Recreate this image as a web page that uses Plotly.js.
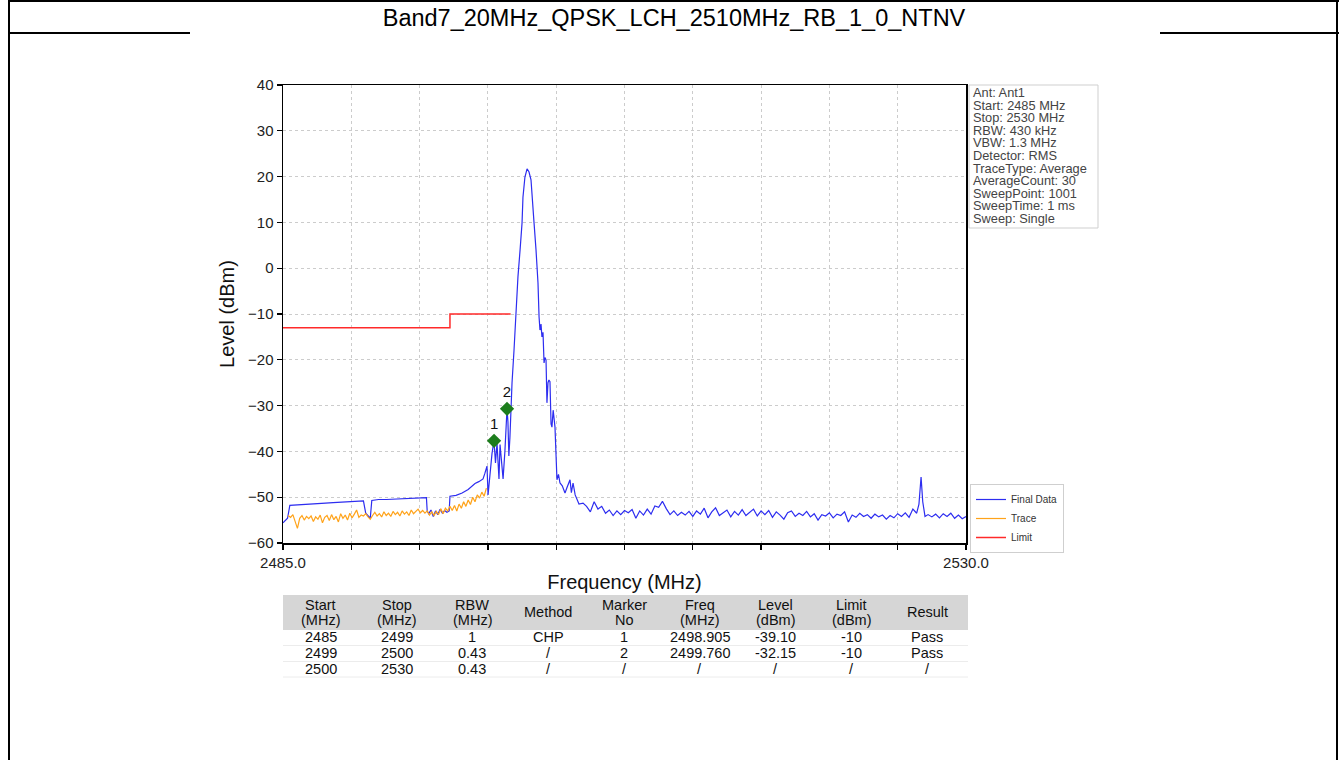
<!DOCTYPE html>
<html>
<head>
<meta charset="utf-8">
<script src="https://cdn.plot.ly/plotly-3.0.1.min.js"></script>
<style>
  html, body { margin: 0; padding: 0; background: #ffffff; }
  #chart { width: 1339px; height: 760px; }
</style>
</head>
<body>
<div id="chart"></div>
<script>
// ---------------- DATA ----------------
const chartTitle = "Band7_20MHz_QPSK_LCH_2510MHz_RB_1_0_NTNV";

// Final Data trace: [frequency MHz, level dBm]
const finalData = [
  [2485.00,-55.6],[2485.15,-55.2],[2485.30,-54.6],[2485.45,-51.8],[2485.80,-51.7],[2486.30,-51.6],
  [2486.80,-51.5],[2487.30,-51.4],[2487.80,-51.3],[2488.30,-51.2],[2488.80,-51.1],[2489.30,-51.0],
  [2489.80,-50.8],[2490.30,-50.8],[2490.45,-53.5],[2490.60,-54.0],[2490.75,-54.6],[2490.85,-50.7],
  [2491.30,-50.5],[2491.80,-50.5],[2492.30,-50.4],[2492.80,-50.4],[2493.30,-50.3],[2493.80,-50.2],
  [2494.30,-50.1],[2494.45,-50.1],[2494.50,-53.0],[2494.60,-53.6],[2494.75,-52.8],[2494.90,-54.2],
  [2495.05,-53.0],[2495.20,-53.8],[2495.35,-52.6],[2495.50,-53.5],[2495.65,-52.9],[2495.80,-53.3],
  [2495.95,-53.0],[2496.00,-49.8],[2496.40,-49.6],[2496.80,-49.1],[2497.20,-48.3],[2497.65,-47.0],
  [2497.90,-46.6],[2498.18,-46.0],[2498.30,-44.8],[2498.44,-43.2],[2498.51,-49.5],[2498.60,-46.0],
  [2498.77,-40.5],[2498.90,-37.7],[2499.00,-42.5],[2499.10,-38.2],[2499.23,-46.0],[2499.30,-38.5],
  [2499.45,-45.5],[2499.50,-46.0],[2499.62,-40.0],[2499.76,-30.7],[2499.82,-33.5],[2499.88,-41.0],
  [2499.95,-37.0],[2500.02,-28.8],[2500.09,-25.0],[2500.22,-17.9],[2500.29,-13.5],[2500.42,-7.6],
  [2500.48,-1.9],[2500.62,4.0],[2500.75,9.9],[2500.81,15.5],[2500.94,19.9],[2501.08,21.7],
  [2501.21,21.0],[2501.34,19.3],[2501.47,14.2],[2501.54,9.9],[2501.67,4.0],[2501.80,-3.2],
  [2501.87,-10.6],[2501.93,-13.5],[2502.00,-12.2],[2502.06,-15.0],[2502.13,-14.0],[2502.20,-20.7],
  [2502.26,-19.5],[2502.33,-20.0],[2502.39,-29.4],[2502.46,-25.0],[2502.52,-24.4],[2502.59,-24.8],
  [2502.66,-34.0],[2502.72,-34.7],[2502.80,-31.0],[2502.92,-34.7],[2502.98,-40.0],[2503.05,-46.2],
  [2503.15,-45.0],[2503.25,-46.9],[2503.40,-47.5],[2503.58,-49.1],[2503.70,-48.0],[2503.80,-47.0],
  [2503.91,-46.2],[2504.00,-49.0],[2504.11,-46.9],[2504.25,-49.5],[2504.37,-50.6],[2504.50,-51.5],
  [2504.77,-51.3],[2505.00,-52.0],[2505.25,-53.2],[2505.50,-51.0],[2505.75,-52.6],[2506.00,-52.0],
  [2506.25,-53.5],[2506.50,-52.8],[2506.75,-54.0],[2507.00,-53.0],[2507.25,-53.8],[2507.50,-52.9],
  [2507.75,-53.4],[2508.00,-52.7],[2508.25,-54.6],[2508.50,-53.0],[2508.75,-53.9],[2509.00,-52.6],
  [2509.25,-53.7],[2509.50,-51.9],[2509.75,-52.2],[2510.00,-50.9],[2510.25,-52.5],[2510.50,-53.8],
  [2510.75,-53.0],[2511.00,-54.0],[2511.25,-53.3],[2511.50,-53.9],[2511.75,-53.1],[2512.00,-54.2],
  [2512.25,-53.0],[2512.50,-53.7],[2512.75,-52.4],[2513.00,-54.5],[2513.25,-53.2],[2513.50,-52.3],
  [2513.75,-54.0],[2514.00,-53.4],[2514.25,-52.8],[2514.50,-54.3],[2514.75,-53.1],[2515.00,-53.9],
  [2515.25,-52.7],[2515.50,-54.0],[2515.75,-53.3],[2516.00,-52.6],[2516.25,-54.1],[2516.50,-53.0],
  [2516.75,-53.8],[2517.00,-52.9],[2517.25,-54.4],[2517.50,-53.2],[2517.75,-53.9],[2518.00,-54.8],
  [2518.25,-53.4],[2518.50,-53.0],[2518.75,-54.2],[2519.00,-53.5],[2519.25,-54.0],[2519.50,-53.1],
  [2519.75,-54.3],[2520.00,-53.6],[2520.25,-55.0],[2520.50,-53.8],[2520.75,-54.1],[2521.00,-53.4],
  [2521.25,-54.5],[2521.50,-53.7],[2521.75,-54.0],[2522.00,-53.2],[2522.25,-55.4],[2522.50,-53.9],
  [2522.75,-54.4],[2523.00,-53.5],[2523.25,-54.2],[2523.50,-53.8],[2523.75,-54.6],[2524.00,-53.7],
  [2524.25,-54.3],[2524.50,-53.9],[2524.75,-54.8],[2525.00,-54.0],[2525.25,-54.5],[2525.50,-53.6],
  [2525.75,-54.2],[2526.00,-53.4],[2526.25,-54.4],[2526.50,-52.6],[2526.75,-53.5],[2526.90,-51.5],
  [2527.04,-45.6],[2527.15,-51.0],[2527.30,-54.2],[2527.50,-53.8],[2527.75,-54.3],[2528.00,-53.7],
  [2528.25,-54.5],[2528.50,-53.6],[2528.75,-54.2],[2529.00,-53.5],[2529.25,-54.6],[2529.50,-53.9],
  [2529.75,-54.7],[2530.00,-54.2]
];

// Trace (orange): [frequency MHz, level dBm]
const traceData = [
  [2485.33,-54.0],[2485.50,-54.4],[2485.65,-53.8],[2485.80,-55.2],[2485.95,-56.8],[2486.10,-54.6],
  [2486.25,-54.0],[2486.40,-55.0],[2486.55,-54.2],[2486.70,-54.7],[2486.85,-54.1],[2487.00,-55.3],
  [2487.15,-54.3],[2487.30,-54.8],[2487.45,-53.9],[2487.60,-55.6],[2487.75,-54.4],[2487.90,-54.0],
  [2488.05,-55.1],[2488.20,-53.8],[2488.35,-54.9],[2488.50,-54.2],[2488.65,-55.4],[2488.80,-53.6],
  [2488.95,-54.6],[2489.10,-53.9],[2489.25,-55.0],[2489.40,-53.5],[2489.55,-54.5],[2489.70,-53.7],
  [2489.85,-52.8],[2490.00,-54.4],[2490.15,-53.9],[2490.30,-54.1],[2490.45,-53.6],[2490.60,-54.3],
  [2490.75,-54.8],[2490.90,-54.0],[2491.05,-53.3],[2491.20,-54.1],[2491.35,-53.6],[2491.50,-54.3],
  [2491.65,-53.2],[2491.80,-54.0],[2491.95,-53.5],[2492.10,-54.2],[2492.25,-53.1],[2492.40,-53.8],
  [2492.55,-53.3],[2492.70,-54.1],[2492.85,-53.0],[2493.00,-53.7],[2493.15,-53.2],[2493.30,-54.0],
  [2493.45,-52.8],[2493.60,-53.6],[2493.75,-53.1],[2493.90,-52.6],[2494.05,-53.4],[2494.20,-52.9],
  [2494.35,-53.5],[2494.50,-53.0],[2494.65,-53.9],[2494.80,-53.2],[2494.95,-54.0],[2495.10,-53.1],
  [2495.25,-53.8],[2495.40,-52.5],[2495.55,-53.6],[2495.70,-52.4],[2495.85,-53.0],[2496.00,-52.0],
  [2496.15,-52.9],[2496.30,-51.8],[2496.45,-53.0],[2496.60,-51.5],[2496.75,-52.4],[2496.90,-51.0],
  [2497.05,-52.0],[2497.20,-50.6],[2497.35,-51.6],[2497.50,-50.0],[2497.65,-51.0],[2497.80,-49.5],
  [2497.95,-50.2],[2498.10,-48.9],[2498.25,-49.8],[2498.40,-48.0]
];

const limitFreq  = [2485, 2496, 2496, 2500];
const limitLevel = [-13, -13, -10, -10];

const markerFreq  = [2498.905, 2499.76];
const markerLevel = [-37.7, -30.7];
const markerLabel = ["1", "2"];

const xTickVals = [2485, 2489.5, 2494, 2498.5, 2503, 2507.5, 2512, 2516.5, 2521, 2525.5, 2530];
const xTickText = ["2485.0", "", "", "", "", "", "", "", "", "", "2530.0"];
const yTickVals = [-60, -50, -40, -30, -20, -10, 0, 10, 20, 30, 40];

const infoLines = ["Ant: Ant1", "Start: 2485 MHz", "Stop: 2530 MHz", "RBW: 430 kHz", "VBW: 1.3 MHz",
  "Detector: RMS", "TraceType: Average", "AverageCount: 30", "SweepPoint: 1001", "SweepTime: 1 ms", "Sweep: Single"];

const tblHeadTop    = ["Start", "Stop", "RBW", "Method", "Marker", "Freq", "Level", "Limit", "Result"];
const tblHeadBottom = ["(MHz)", "(MHz)", "(MHz)", "", "No", "(MHz)", "(dBm)", "(dBm)", ""];
const tblRow1 = ["2485", "2499", "1", "CHP", "1", "2498.905", "-39.10", "-10", "Pass"];
const tblRow2 = ["2499", "2500", "0.43", "/", "2", "2499.760", "-32.15", "-10", "Pass"];
const tblRow3 = ["2500", "2530", "0.43", "/", "/", "/", "/", "/", "/"];

// ---------------- LAYOUT HELPERS ----------------
const W = 1339, H = 760;
const px = x => x / W;
const py = y => 1 - y / H;
const FONT = "Liberation Sans, Arial, Helvetica, sans-serif";

const traces = [
  {
    type: "scatter", mode: "lines", name: "Final Data",
    x: finalData.map(d => d[0]), y: finalData.map(d => d[1]),
    line: { color: "#2d2df0", width: 1.2 }
  },
  {
    type: "scatter", mode: "lines", name: "Trace",
    x: traceData.map(d => d[0]), y: traceData.map(d => d[1]),
    line: { color: "#ffa31a", width: 1.2 }
  },
  {
    type: "scatter", mode: "lines", name: "Limit",
    x: limitFreq, y: limitLevel,
    line: { color: "#ff2a2a", width: 1.5 }
  },
  {
    type: "scatter", mode: "markers+text", showlegend: false,
    x: markerFreq, y: markerLevel, text: markerLabel,
    textposition: "top center",
    textfont: { family: FONT, size: 15, color: "#111" },
    marker: { symbol: "diamond", size: 11, color: "#1c7d1c", line: { color: "#1c7d1c", width: 0 } }
  }
];

const shapes = [];
const annotations = [];
const line = (x0, y0, x1, y1, w, c) => shapes.push({ type: "line", xref: "paper", yref: "paper",
  x0: px(x0), x1: px(x1), y0: py(y0), y1: py(y1), line: { color: c || "#000", width: w } });

// page frame
line(8, 1, 1339, 1, 2);
line(9, 0, 9, 760, 2);
line(1337, 0, 1337, 760, 2);
line(8, 33, 190, 33, 2);
line(1160, 33, 1339, 33, 2);

// info box
shapes.push({ type: "rect", xref: "paper", yref: "paper", x0: px(969), x1: px(1098), y0: py(85), y1: py(228),
  line: { color: "#cfcfcf", width: 1 }, fillcolor: "#ffffff", layer: "above" });
infoLines.forEach((t, i) => {
  annotations.push({ xref: "paper", yref: "paper", x: px(972), y: py(92.5 + i * 12.6), xanchor: "left", yanchor: "middle",
    text: t, showarrow: false, borderpad: 0, font: { family: FONT, size: 12.8, color: "#444" } });
});

// table
const tX0 = 283, tX1 = 965, nCol = tblHeadTop.length, colW = (tX1 - tX0) / nCol;
shapes.push({ type: "rect", xref: "paper", yref: "paper", x0: px(tX0), x1: px(tX1 + 3), y0: py(595), y1: py(630),
  line: { width: 0 }, fillcolor: "#d6d6d6", layer: "below" });
[645.5, 661.5, 677].forEach(yy => line(tX0, yy, tX1 + 3, yy, 1, "#ececec"));
const tFont = { family: FONT, size: 14.5, color: "#111" };
const cell = (x, y, t) => annotations.push({ xref: "paper", yref: "paper", x: x, y: y, xanchor: "center", yanchor: "middle",
  text: t, showarrow: false, borderpad: 0, font: tFont });
for (let c = 0; c < nCol; c++) {
  const cx = px(tX0 + colW * (c + 0.5));
  if (tblHeadBottom[c]) {
    cell(cx, py(604.5), tblHeadTop[c]);
    cell(cx, py(620), tblHeadBottom[c]);
  } else {
    cell(cx, py(611.5), tblHeadTop[c]);
  }
  [tblRow1, tblRow2, tblRow3].forEach((row, r) => cell(cx, py(637 + r * 16), row[c]));
}

const layout = {
  width: W, height: H,
  margin: { l: 0, r: 0, t: 0, b: 0 },
  paper_bgcolor: "#ffffff", plot_bgcolor: "#ffffff",
  font: { family: FONT, color: "#222" },
  title: { text: chartTitle, x: px(674), xanchor: "center", y: py(18), yanchor: "middle",
    font: { family: FONT, size: 23.5, color: "#000" } },
  showlegend: true,
  legend: { x: px(970), xanchor: "left", y: py(484), yanchor: "top",
    bgcolor: "#ffffff", bordercolor: "#cfcfcf", borderwidth: 1,
    font: { family: FONT, size: 10, color: "#333" }, tracegroupgap: 0 },
  xaxis: {
    domain: [px(283), px(966)], range: [2485, 2530],
    tickmode: "array", tickvals: xTickVals, ticktext: xTickText,
    ticks: "outside", ticklen: 5, tickwidth: 1.2, tickcolor: "#000",
    showline: true, linecolor: "#000", linewidth: 1.5, mirror: true,
    showgrid: true, gridcolor: "#cccccc", griddash: "dot", gridwidth: 1,
    zeroline: false,
    tickfont: { family: FONT, size: 15, color: "#222" },
    title: { text: "Frequency (MHz)", font: { family: FONT, size: 20, color: "#111" }, standoff: 5 }
  },
  yaxis: {
    domain: [py(543), py(85)], range: [-60, 40],
    tickmode: "array", tickvals: yTickVals,
    ticks: "outside", ticklen: 5, tickwidth: 1.2, tickcolor: "#000",
    showline: true, linecolor: "#000", linewidth: 1.5, mirror: true,
    showgrid: true, gridcolor: "#cccccc", griddash: "dot", gridwidth: 1,
    zeroline: false,
    tickfont: { family: FONT, size: 15, color: "#222" },
    title: { text: "Level (dBm)", font: { family: FONT, size: 20, color: "#111" }, standoff: 8 }
  },
  shapes: shapes,
  annotations: annotations
};

Plotly.newPlot("chart", traces, layout, { displayModeBar: false, staticPlot: true });
</script>
</body>
</html>
